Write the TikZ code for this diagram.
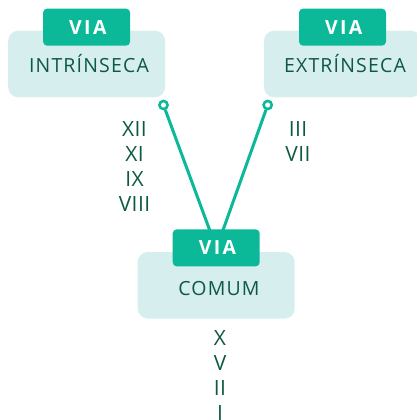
\documentclass[tikz,border=0pt]{standalone}
\usepackage{fontspec}
\setmainfont{Open Sans}
\newfontfamily\widefont[LetterSpace=6]{Open Sans}
\newfontfamily\numfont[LetterSpace=2]{Open Sans}
\newfontfamily\tabfont[LetterSpace=12]{Open Sans}
\usetikzlibrary{positioning}
\definecolor{viateal}{HTML}{0BB897}
\definecolor{viapale}{HTML}{D7EEEE}
\definecolor{viadark}{HTML}{0D5943}

\begin{document}
\begin{tikzpicture}[
  x=1pt, y=-1pt,
  box/.style={rectangle, fill=viapale, rounded corners=10pt, minimum width=157pt, minimum height=66.5pt, inner sep=0pt},
  viatab/.style={rectangle, fill=viateal, rounded corners=4pt, minimum width=87pt, minimum height=37pt, inner sep=0pt, text=white, font=\tabfont\fontsize{19.5}{24}\selectfont\bfseries},
  boxname/.style={anchor=base, inner sep=0pt, text=viadark, font=\widefont\fontsize{19.5}{24}\selectfont},
  nums/.style={anchor=north, align=center, inner sep=0pt, text=viadark, font=\numfont\fontsize{21}{25}\selectfont},
  link/.style={viateal, line width=3pt},
  pinhole/.style={circle, draw=viateal, fill=white, line width=2.4pt, minimum size=8pt, inner sep=0pt},
]
\useasboundingbox (0,0) rectangle (416,420);

% boxes
\node[box] (intr) at (86.6,64) {};
\node[boxname] at (89,73) {INTRÍNSECA};
\node[box] (extr) at (342.5,64) {};
\node[boxname] at (345,73) {EXTRÍNSECA};
\node[box] (comum) at (216.2,285.3) {};
\node[boxname] at (219,295) {COMUM};

% connectors
\node[pinhole] (lpin) at (163.5,105) {};
\node[pinhole] (rpin) at (267.7,105) {};
\coordinate (ltip) at (210,231);
\coordinate (rtip) at (222.7,231);
\draw[link] (lpin) -- (ltip);
\draw[link] (rpin) -- (rtip);

% tabs
\node[viatab, above=-15.3pt of intr.north] (intrtab) {\hspace{2.5pt}VIA};
\node[viatab, above=-15.3pt of extr.north] (extrtab) {\hspace{2.5pt}VIA};
\node[viatab, above=-14.7pt of comum.north] (comumtab) {\hspace{2.5pt}VIA};
\node[pinhole] at (lpin) {};
\node[pinhole] at (rpin) {};

% numerals
\node[nums] (lnums) at (134.5,121.5) {XII\\XI\\IX\\VIII};
\node[nums] (rnums) at (298,121.5) {III\\VII};
\node[nums] (cnums) at (220,330) {X\\V\\II\\I};

\end{tikzpicture}
\end{document}
